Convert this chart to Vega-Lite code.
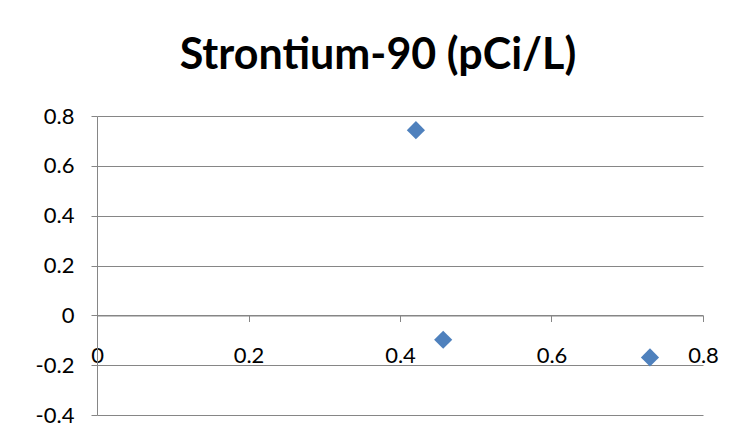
{
  "$schema": "https://vega.github.io/schema/vega-lite/v6.json",
  "width": 606,
  "height": 299,
  "autosize": {"type": "none"},
  "padding": {"left": 97, "top": 116, "right": 46, "bottom": 28},
  "background": "white",
  "config": {"view": {"stroke": null}},
  "title": {
    "text": "Strontium-90 (pCi/L)",
    "font": "Lato",
    "fontSize": 43,
    "fontWeight": "bold",
    "color": "black",
    "anchor": "middle",
    "frame": "group",
    "baseline": "alphabetic",
    "offset": -7,
    "dx": -22
  },
  "data": {
    "values": [
      {"x": 0.421, "y": 0.743},
      {"x": 0.457, "y": -0.098},
      {"x": 0.730, "y": -0.169}
    ]
  },
  "mark": {"type": "point", "shape": "diamond", "filled": true, "color": "#4F81BD", "opacity": 1, "size": 330},
  "encoding": {
    "x": {
      "field": "x",
      "type": "quantitative",
      "scale": {"domain": [0, 0.8], "nice": false, "zero": false},
      "axis": {
        "title": null,
        "orient": "bottom",
        "offset": -99.5,
        "values": [0, 0.2, 0.4, 0.6, 0.8],
        "grid": false,
        "domainColor": "#868686",
        "tickColor": "#868686",
        "tickSize": 6,
        "labelFont": "Lato",
        "labelFontSize": 22,
        "labelColor": "black",
        "labelPadding": 24,
        "labelFlush": false,
        "labelExpr": "datum.value == 0 ? '0' : replace(format(datum.value, '.1f'), '\u2212', '-')"
      }
    },
    "y": {
      "field": "y",
      "type": "quantitative",
      "scale": {"domain": [-0.4, 0.8], "nice": false, "zero": false},
      "axis": {
        "title": null,
        "values": [-0.4, -0.2, 0, 0.2, 0.4, 0.6, 0.8],
        "grid": true,
        "gridColor": "#868686",
        "domainColor": "#868686",
        "tickColor": "#868686",
        "tickSize": 6,
        "labelFont": "Lato",
        "labelFontSize": 22,
        "labelColor": "black",
        "labelPadding": 17,
        "labelFlush": false,
        "labelExpr": "datum.value == 0 ? '0' : replace(format(datum.value, '.1f'), '\u2212', '-')"
      }
    }
  }
}
